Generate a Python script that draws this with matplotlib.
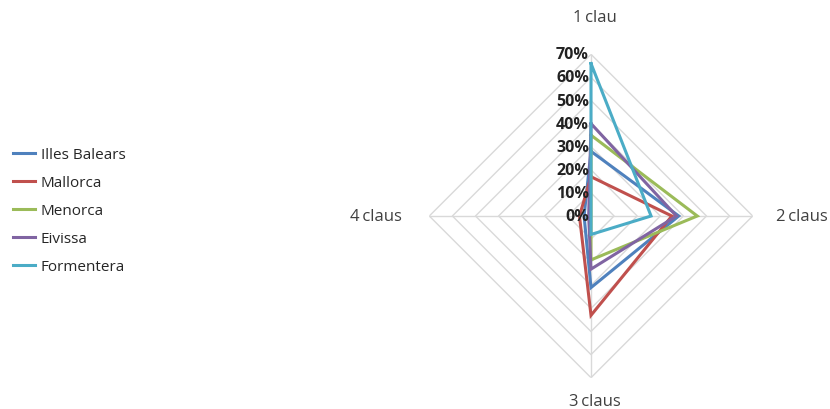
import numpy as np
import matplotlib
matplotlib.use("Agg")
import matplotlib.pyplot as plt
from matplotlib.lines import Line2D

plt.rcParams['font.family'] = ['Open Sans', 'DejaVu Sans']

# categories clockwise from top
categories = ['1\u2009clau', '2\u2009claus', '3\u2009claus', '4\u2009claus']
series_names = ['Illes Balears', 'Mallorca', 'Menorca', 'Eivissa', 'Formentera']
illes_balears = [28, 38, 31, 3]
mallorca = [17, 35, 43, 5]
menorca = [35, 46, 19, 0]
eivissa = [40, 37, 23, 1]
formentera = [66, 26, 8, 0]
levels = [0, 10, 20, 30, 40, 50, 60, 70]
level_labels = ['0%', '10%', '20%', '30%', '40%', '50%', '60%', '70%']

colors = ['#4F81BD', '#C0504D', '#9BBB59', '#8064A2', '#4BACC6']
grid_color = '#D9D9D9'

fig = plt.figure(figsize=(8.3, 4.1), dpi=100)
cx, cy, rad = 591, 217, 161.7
ax = fig.add_axes([(cx - rad) / 830, (410 - cy - rad) / 410, 2 * rad / 830, 2 * rad / 410],
                  projection='polar')
ax.set_theta_zero_location('N')
ax.set_theta_direction(-1)
ax.set_ylim(0, 70)
ax.spines['polar'].set_visible(False)
ax.patch.set_alpha(0)

n = len(categories)
angles = np.arange(n) * 2 * np.pi / n
closed = np.append(angles, angles[0])

# polygon gridlines
for lv in levels[1:]:
    ax.plot(closed, [lv] * (n + 1), color=grid_color, lw=1.0, zorder=1)
# spokes
for a in angles:
    ax.plot([a, a], [0, 70], color=grid_color, lw=1.0, zorder=1)
ax.grid(False)
ax.set_xticks([])
ax.set_yticks([])

all_series = [illes_balears, mallorca, menorca, eivissa, formentera]
for name, vals, col in zip(series_names, all_series, colors):
    v = list(vals) + [vals[0]]
    ax.plot(closed, v, color=col, lw=2.2, label=name, zorder=3, solid_joinstyle='miter')

# radial tick labels
for lv, lab in zip(levels, level_labels):
    ax.annotate(lab, xy=(0, lv), xytext=(-2, 0), textcoords='offset pixels',
                ha='right', va='center', fontsize=11.5, fontweight='bold', color='#222222',
                zorder=4)

# category labels
offsets = [((4, 37), 'center', 'center'), ((23, 0), 'left', 'center'),
           ((4, -23), 'center', 'center'), ((-27, 0), 'right', 'center')]
for a, lab, (off, ha, va) in zip(angles, categories, offsets):
    ax.annotate(lab, xy=(a, 70), xytext=off, textcoords='offset pixels',
                ha=ha, va=va, fontsize=12, color='#404040', annotation_clip=False)

handles = [Line2D([0], [0], color=c, lw=2.2) for c in colors]
fig.legend(handles, series_names, loc='center left', bbox_to_anchor=(0.003, 0.484),
           frameon=False, fontsize=11, handlelength=1.4, handletextpad=0.4,
           labelspacing=0.85, labelcolor='#262626', borderpad=0.2)

fig.savefig('out.png', dpi=100)
